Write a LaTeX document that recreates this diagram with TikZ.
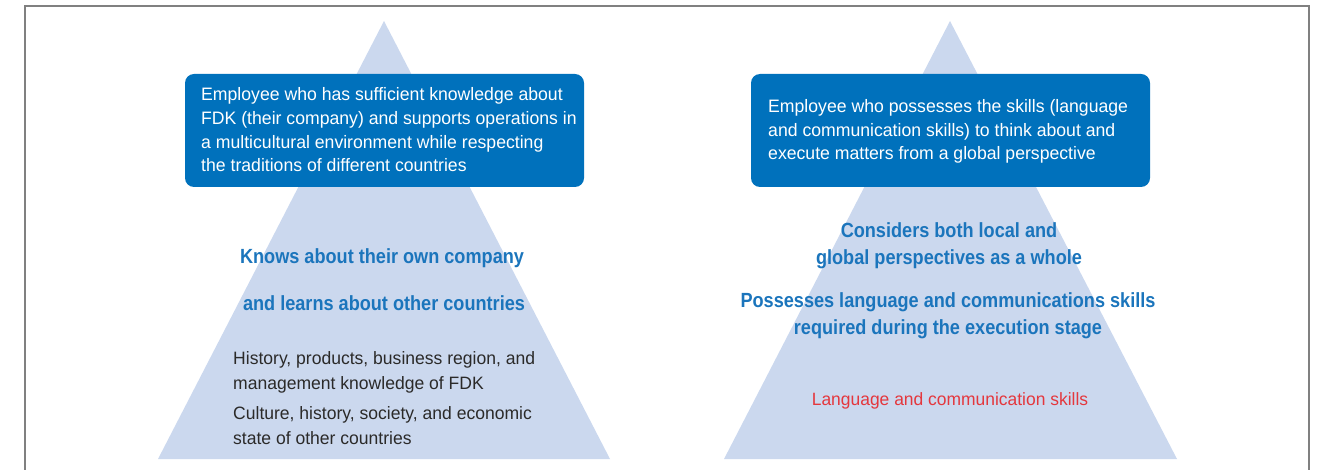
\documentclass[tikz,border=0pt]{standalone}
\usepackage{fontspec}
\setmainfont{Liberation Sans}[FakeStretch=0.98]
\newfontfamily\boldcn{Liberation Sans Bold}[FakeStretch=0.884]
\definecolor{tri}{HTML}{CBD8EE}
\definecolor{boxblue}{HTML}{0071BC}
\definecolor{midblue}{HTML}{1B75BC}
\definecolor{redtxt}{HTML}{E4373D}
\definecolor{darktxt}{HTML}{2B2A29}
\definecolor{framegray}{HTML}{808080}
\tikzset{
  pyramid/.style={fill=tri, draw=none},
  topbox/.style={fill=boxblue, draw=none, rounded corners=9pt, minimum width=399pt, minimum height=113pt, inner sep=0pt},
  boxtext/.style={text=white, align=left, anchor=west, inner sep=0pt, font=\fontsize{18pt}{23.7pt}\selectfont},
  midtext/.style={text=midblue, align=center, inner sep=0pt, font=\boldcn\fontsize{20.5pt}{27pt}\selectfont},
  lowtext/.style={text=darktxt, align=left, anchor=west, inner sep=0pt, font=\fontsize{17.9pt}{25pt}\selectfont},
  redlabel/.style={text=redtxt, inner sep=0pt, font=\fontsize{17.8pt}{24pt}\selectfont},
}
\begin{document}
\begin{tikzpicture}[x=1pt,y=-1pt]
\useasboundingbox (0,0) rectangle (1319,470);
% frame
\draw[framegray, line width=1.5pt] (25,471) -- (25,6) -- (1309,6) -- (1309,471);
% pyramids
\fill[pyramid] (384,21) -- (610,459) -- (158,459) -- cycle;
\fill[pyramid] (950,21) -- (1177,459) -- (724,459) -- cycle;
% top boxes
\node[topbox] (boxL) at (384.5,130.5) {};
\node[topbox] (boxR) at (950.5,130.5) {};
\node[boxtext] (tL) at (201,130) {Employee who has sufficient knowledge about\\FDK (their company) and supports operations in\\a multicultural environment while respecting\\the traditions of different countries};
\node[boxtext] (tR) at (768,131.5) {Employee who possesses the skills (language\\and communication skills) to think about and\\execute matters from a global perspective};
% middle blue texts
\node[midtext] (mL1) at (382,258) {Knows about their own company};
\node[midtext] (mL2) at (384,303) {and learns about other countries};
\node[midtext] (mR1) at (949,246) {Considers both local and\\global perspectives as a whole};
\node[midtext] (mR2) at (948,316) {Possesses language and communications skills\\required during the execution stage};
% lower texts
\node[lowtext] (lL1) at (233,372.5) {History, products, business region, and\\management knowledge of FDK};
\node[lowtext] (lL2) at (233,426) {Culture, history, society, and economic\\state of other countries};
\node[redlabel] (rR) at (950,401) {Language and communication skills};
\end{tikzpicture}
\end{document}
